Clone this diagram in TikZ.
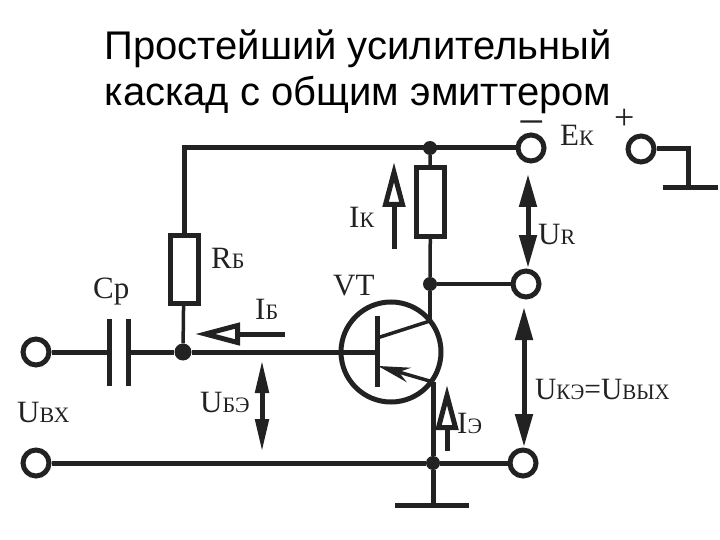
\documentclass[tikz,border=0pt]{standalone}
\usepackage{fontspec}
\setmainfont{Liberation Serif}
\newfontfamily\titlefont{Liberation Sans}
\newfontfamily\minusfont[FakeBold=20]{Liberation Serif}
\usetikzlibrary{arrows.meta}
\definecolor{ink}{HTML}{222222}
\newcommand{\lbl}[2]{{\fontsize{31}{31}\selectfont #1\fontsize{22}{22}\selectfont #2}}
\tikzset{
    wire/.style={line width=5pt,draw=ink},
    thinwire/.style={line width=3.5pt,draw=ink},
    term/.style={circle,draw=ink,line width=5pt,fill=white,minimum size=26pt,inner sep=0pt},
    junc/.style={circle,fill=ink,minimum size=17pt,inner sep=0pt},
    resist/.style={rectangle,draw=ink,line width=5pt,fill=white,minimum width=28pt,inner sep=0pt},
    lab/.style={anchor=base west,inner sep=0pt,text=ink},
    ttl/.style={anchor=base,inner sep=0pt,font=\titlefont\fontsize{40}{40}\selectfont},
    curr/.style={line width=5pt,draw=ink,-{Triangle[open,fill=white,length=45pt,width=22pt]}},
    volt/.style={line width=5pt,draw=ink,{Triangle[length=33pt,width=17pt]}-{Triangle[length=33pt,width=17pt]}}
}
\begin{document}
\begin{tikzpicture}[x=1pt,y=-1pt]
    \useasboundingbox (0,0) rectangle (720,540);
    % title
    \node[ttl] (title1) at (358,60) {Простейший усилительный};
    \node[ttl] (title2) at (358,106) {каскад с общим эмиттером};
    % terminals and junctions
    \node[term] (ek) at (531,148) {};
    \node[term] (ekp) at (641,149) {};
    \node[term] (ur) at (526,284) {};
    \node[term] (out) at (523,463) {};
    \node[term] (in) at (36,352) {};
    \node[term] (inl) at (36,463) {};
    \node[junc,minimum size=14pt] (jtop) at (430,148) {};
    \node[junc,minimum size=14pt] (jmid) at (430,284) {};
    \node[junc] (jb) at (183,352) {};
    \node[junc,minimum size=14pt] (jbot) at (433,463) {};
    % resistors
    \node[resist,minimum height=68pt] (rb) at (184,269) {};
    \node[resist,minimum height=68pt] (rk) at (430.5,202) {};
    % transistor
    \node[circle,draw=ink,line width=5pt,minimum size=100pt,inner sep=0pt] (vt) at (391,352) {};
    \coordinate (base) at (377,352);
    \coordinate (bt) at (377,316);
    \coordinate (bb) at (377,387);
    \coordinate (coll) at (430,321);
    \coordinate (emit) at (433,382);
    \coordinate (bc) at (377,338);
    \coordinate (be) at (378,366);
    \draw[wire] (bt) -- (bb);
    \draw[thinwire] (bc) -- (coll);
    \draw[thinwire,-{Stealth[length=32pt,width=15pt]}] (emit) -- (be);
    % capacitor
    \coordinate (c1t) at (109,319);
    \coordinate (c1b) at (109,386);
    \coordinate (c2t) at (128,319);
    \coordinate (c2b) at (128,386);
    \coordinate (c1) at (109,352);
    \coordinate (c2) at (128,352);
    \draw[wire] (c1t) -- (c1b);
    \draw[wire] (c2t) -- (c2b);
    % wires
    \coordinate (tl) at (184,148);
    \draw[wire] (rb) -- (tl) -- (ek);
    \draw[thinwire] (rb) -- (jb);
    \draw[thinwire] (jtop) -- (rk);
    \draw[thinwire] (rk) -- (jmid);
    \draw[thinwire] (jmid) -- (ur);
    \draw[thinwire] (jmid) -- (coll);
    \draw[wire] (in) -- (c1);
    \draw[wire] (c2) -- (jb);
    \draw[wire] (jb) -- (base);
    \draw[wire] (inl) -- (jbot);
    \draw[wire] (jbot) -- (out);
    \draw[wire] (emit) -- (jbot);
    % grounds
    \coordinate (gnd) at (433,505);
    \coordinate (gndl) at (395,505);
    \coordinate (gndr) at (469,505);
    \draw[wire] (jbot) -- (gnd);
    \draw[wire] (gndl) -- (gndr);
    \coordinate (gc) at (688,149);
    \coordinate (g2) at (688,188);
    \coordinate (g2l) at (663,188);
    \coordinate (g2r) at (718,188);
    \draw[wire] (ekp) -- (gc) -- (g2);
    \draw[wire] (g2l) -- (g2r);
    % currents
    \coordinate (ikt) at (394,249);
    \coordinate (ikh) at (394,162);
    \draw[curr] (ikt) -- (ikh);
    \coordinate (ibt) at (285,334);
    \coordinate (ibh) at (195,334);
    \draw[curr] (ibt) -- (ibh);
    \coordinate (iet) at (447,451);
    \coordinate (ieh) at (447,385);
    \draw[curr] (iet) -- (ieh);
    % voltages
    \coordinate (ur1) at (528,174);
    \coordinate (ur2) at (528,268);
    \draw[volt] (ur1) -- (ur2);
    \coordinate (uk1) at (524,307);
    \coordinate (uk2) at (524,447);
    \draw[volt] (uk1) -- (uk2);
    \coordinate (ub1) at (262,360);
    \coordinate (ub2) at (262,452);
    \draw[volt,{Triangle[length=33pt,width=13pt]}-{Triangle[length=33pt,width=13pt]}] (ub1) -- (ub2);
    % labels
    \node[lab,font=\minusfont\fontsize{9}{9}\selectfont] (minus) at (522,123.5) {\scalebox{2}[1]{—}};
    \node[lab,font=\fontsize{36}{36}\selectfont] (plus) at (614,130) {+};
    \node[lab] (lek) at (560,146) {\lbl{Е}{К}};
    \node[lab] (lik) at (349,227) {\lbl{I}{К}};
    \node[lab] (lur) at (538,244) {\lbl{U}{R}};
    \node[lab] (lvt) at (333,295) {\fontsize{31}{31}\selectfont VT};
    \node[lab] (lrb) at (211,268) {\lbl{R}{Б}};
    \node[lab] (lcp) at (93,298) {\fontsize{31}{31}\selectfont Ср};
    \node[lab] (lib) at (255,319) {\lbl{I}{Б}};
    \node[lab] (lub) at (200,412) {\lbl{U}{БЭ}};
    \node[lab] (lin) at (17,422) {\lbl{U}{ВХ}};
    \node[lab] (luk) at (535,399) {\scalebox{.95}[1]{\lbl{U}{КЭ}\lbl{=U}{ВЫХ}}};
    \node[lab] (lie) at (457,433) {\lbl{I}{Э}};
\end{tikzpicture}
\end{document}
